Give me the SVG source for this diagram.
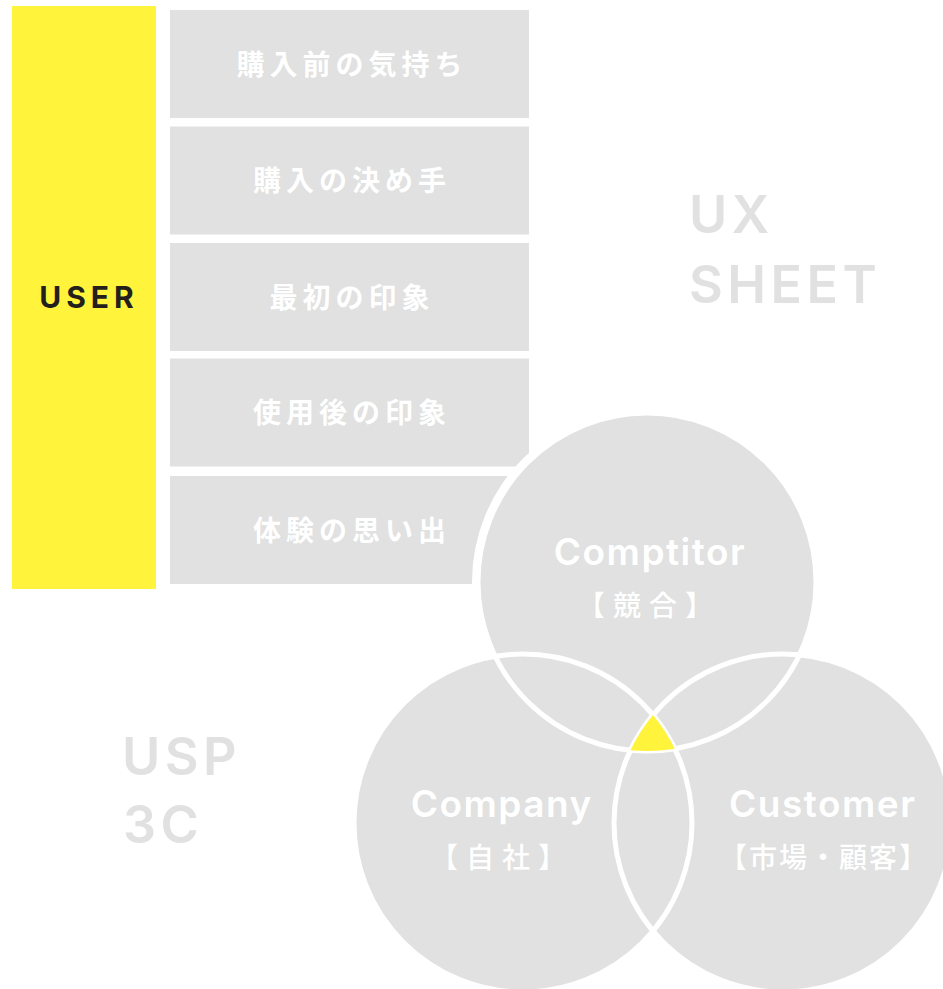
<svg xmlns="http://www.w3.org/2000/svg" width="943" height="989" viewBox="0 0 943 989">
<style>
.box{fill:#e0e1e0}
.jp{font-family:"Noto Sans CJK JP","Noto Sans",sans-serif;font-weight:700;font-size:28px;letter-spacing:5px;fill:#ffffff;text-anchor:middle}
.big{font-family:Inter,"Liberation Sans",sans-serif;font-weight:600;font-size:52px;letter-spacing:4.5px;fill:#e0e1e0}
.ven{fill:#e0e1e0}
.ring{fill:none;stroke:#ffffff;stroke-width:5}
.lab{font-family:Inter,"Liberation Sans",sans-serif;font-weight:600;font-size:37px;letter-spacing:1.5px;fill:#ffffff;text-anchor:middle}
.sub{font-family:"Noto Sans CJK JP","Noto Sans",sans-serif;font-weight:500;font-size:28px;letter-spacing:8px;fill:#ffffff;text-anchor:middle}
</style>
<rect width="943" height="989" fill="#ffffff"/>
<g id="user">
<rect x="12" y="6" width="144" height="583" fill="#fff33b"/>
<text x="89" y="308" style="font-family:Inter,'Liberation Sans',sans-serif;font-weight:700;font-size:30px;letter-spacing:5px;fill:#231f1c;text-anchor:middle">USER</text>
</g>
<g id="step1"><rect class="box" x="170" y="10" width="359" height="108"/><text class="jp" x="352" y="74.6">購入前の気持ち</text></g>
<g id="step2"><rect class="box" x="170" y="126.5" width="359" height="108"/><text class="jp" x="352" y="191">購入の決め手</text></g>
<g id="step3"><rect class="box" x="170" y="243" width="359" height="108"/><text class="jp" x="352" y="307.6">最初の印象</text></g>
<g id="step4"><rect class="box" x="170" y="358.5" width="359" height="108"/><text class="jp" x="352" y="423">使用後の印象</text></g>
<g id="step5"><rect class="box" x="170" y="476" width="359" height="108"/><text class="jp" x="352" y="540.6">体験の思い出</text></g>
<g id="ux-title"><text class="big" x="689" y="233">UX</text><text class="big" x="689" y="303">SHEET</text></g>
<g id="usp-title"><text class="big" x="122" y="775">USP</text><text class="big" x="123" y="843">3C</text></g>
<g id="venn">
<circle cx="647" cy="582" r="175" fill="#ffffff"/>
<circle class="ven" cx="647" cy="582" r="169"/>
<circle class="ven" cx="523" cy="823" r="169"/>
<circle class="ven" cx="783" cy="823" r="169"/>
</g>
<g id="connectors">
<circle class="ring" cx="647" cy="582" r="169"/>
<circle class="ring" cx="523" cy="823" r="169"/>
<circle class="ring" cx="783" cy="823" r="169"/>
</g>
<g id="core">
<path d="M653 715 A169 169 0 0 0 630.4 750.2 A169 169 0 0 0 674.8 748.7 A169 169 0 0 0 653 715 Z" fill="#fff33b"/>
</g>
<g id="comptitor"><text class="lab" x="650" y="565">Comptitor</text><text class="sub" x="649" y="616">【競合】</text></g>
<g id="company"><text class="lab" x="501.7" y="817">Company</text><text class="sub" x="502" y="868">【自社】</text></g>
<g id="customer"><text class="lab" x="822.7" y="817">Customer</text><text class="sub" x="824" y="868" style="letter-spacing:2px">【市場・顧客】</text></g>
</svg>
